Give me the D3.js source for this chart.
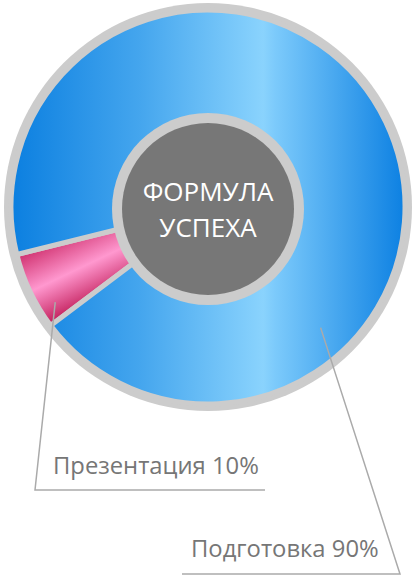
<!DOCTYPE html>
<html><head><meta charset="utf-8">
<script src="https://cdn.jsdelivr.net/npm/d3@7"></script>
<style>html,body{margin:0;padding:0;background:#fff;}svg{display:block;}</style>
</head><body>
<script>
// Data
const categories = ["Презентация", "Подготовка"];
const labelPercents = ["10%", "90%"];
const sliceShares = [6.4, 93.6]; // angular share as drawn in the picture
const centerTitle = ["ФОРМУЛА", "УСПЕХА"];

const W = 413, H = 579;
const cx = 208, cy = 207;
const rBorder = 204, rOuter = 197, rHubRing = 96, rHub = 86;
const svg = d3.select("body").append("svg").attr("width", W).attr("height", H);
const defs = svg.append("defs");

const blue = defs.append("linearGradient").attr("id", "gBlue")
  .attr("gradientUnits", "userSpaceOnUse")
  .attr("x1", -rOuter).attr("y1", 0).attr("x2", rOuter).attr("y2", 0);
[[0, "#0b7fe0"], [0.33, "#45a6ee"], [0.64, "#8ad3fd"], [0.67, "#7ccafb"], [1, "#0c80e2"]]
  .forEach(([o, c]) => blue.append("stop").attr("offset", o).attr("stop-color", c));

const pie = d3.pie().sort(null)
  .startAngle(233 * Math.PI / 180).endAngle((233 + 360) * Math.PI / 180);
const arcsData = pie(sliceShares);
const arc = d3.arc().innerRadius(rHub).outerRadius(rOuter);

// pink gradient perpendicular to slice bisector
const pd = arcsData[0];
const mid = (pd.startAngle + pd.endAngle) / 2;
const rm = (rHub + rOuter) / 2;
const m = d3.pointRadial(mid, rm);
const halfW = rm * Math.sin((pd.endAngle - pd.startAngle) / 2) + 6;
const perp = [Math.cos(mid), Math.sin(mid)];
const pink = defs.append("linearGradient").attr("id", "gPink")
  .attr("gradientUnits", "userSpaceOnUse")
  .attr("x1", m[0] - perp[0] * halfW).attr("y1", m[1] - perp[1] * halfW)
  .attr("x2", m[0] + perp[0] * halfW).attr("y2", m[1] + perp[1] * halfW);
[[0, "#c82a66"], [0.5, "#ff98cf"], [1, "#d43b78"]]
  .forEach(([o, c]) => pink.append("stop").attr("offset", o).attr("stop-color", c));

const g = svg.append("g").attr("transform", `translate(${cx},${cy})`);
g.append("circle").attr("r", rBorder).attr("fill", "#cccccc");
g.selectAll("path.slice").data(arcsData).enter().append("path")
  .attr("class", "slice")
  .attr("d", arc)
  .attr("fill", (d, i) => i === 0 ? "url(#gPink)" : "url(#gBlue)")
  .attr("stroke", "#cccccc").attr("stroke-width", 5).attr("stroke-linejoin", "round");

// hub
g.append("circle").attr("r", rHubRing).attr("cy", 2).attr("fill", "#cccccc");
g.append("circle").attr("r", rHub).attr("cy", 2).attr("fill", "#777777");
g.selectAll("text.title").data(centerTitle).enter().append("text")
  .attr("class", "title")
  .attr("x", 0).attr("y", (d, i) => -6 + i * 36)
  .attr("text-anchor", "middle")
  .attr("font-family", "'Open Sans', sans-serif").attr("font-size", 26)
  .attr("fill", "#ffffff").text(d => d);

// leader lines and labels
const leaders = [
  { frac: 0.22, r: 180, elbow: [35, 490], end: 265, tx: 53, ty: 474 },
  { frac: 0.715, r: 165, elbow: [400, 574], end: 182, tx: 191, ty: 557 }
];
arcsData.forEach((d, i) => {
  const L = leaders[i];
  const a = d.startAngle + (d.endAngle - d.startAngle) * L.frac;
  const p = d3.pointRadial(a, L.r);
  const line = d3.line();
  svg.append("path")
    .attr("d", line([[cx + p[0], cy + p[1]], L.elbow, [L.end, L.elbow[1]]]))
    .attr("fill", "none").attr("stroke", "#aaaaaa").attr("stroke-width", 1.5);
  svg.append("text").attr("x", L.tx).attr("y", L.ty)
    .attr("font-family", "'Open Sans', sans-serif").attr("font-size", 23.8)
    .attr("fill", "#767676")
    .text(categories[i] + " " + labelPercents[i]);
});
</script>
</body></html>
